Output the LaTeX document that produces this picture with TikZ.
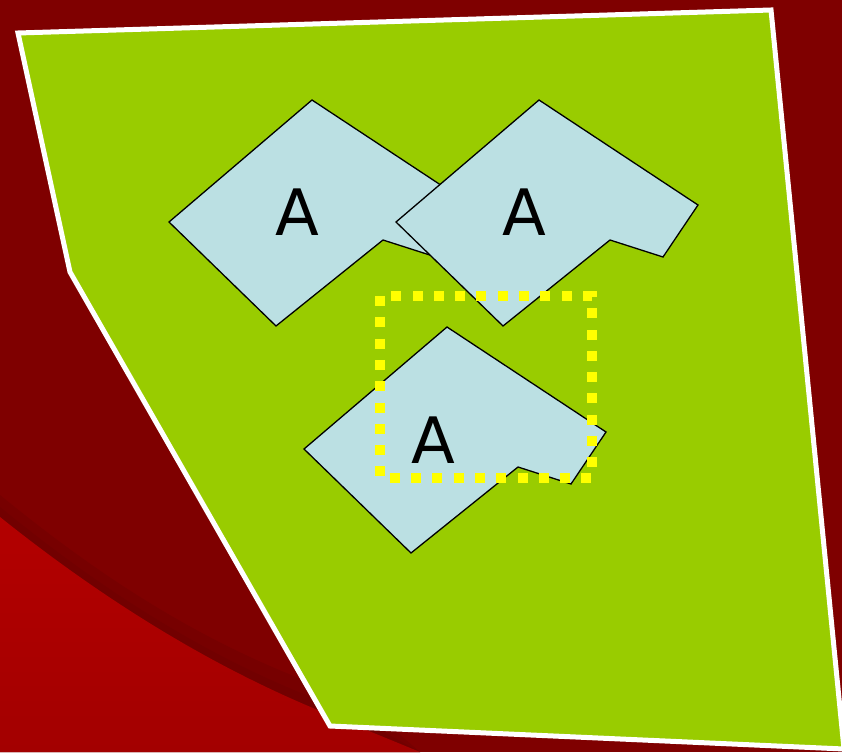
\documentclass[tikz,border=0pt]{standalone}
\usepackage{fontspec}
\setmainfont{DejaVu Sans}
\definecolor{bgred}{HTML}{7F0000}
\definecolor{shadowred}{HTML}{720000}
\definecolor{litred}{HTML}{A30000}
\definecolor{litred2}{HTML}{B30000}
\definecolor{field}{HTML}{99CC00}
\definecolor{piece}{HTML}{BBE0E3}
\definecolor{marq}{HTML}{FFFF00}
\tikzset{
  piecestyle/.style={fill=piece, draw=black, line width=1.3pt, line join=miter},
  fieldstyle/.style={fill=field, draw=white, line width=5pt, line join=miter},
  letter/.style={font=\fontsize{64}{64}\selectfont, text=black, inner sep=0pt},
  marquee/.style={draw=marq, line width=10pt, dash pattern=on 10pt off 11.3pt}
}
\begin{document}
\begin{tikzpicture}[x=1pt,y=-1pt]
\useasboundingbox (0,0) rectangle (842,752);
\fill[bgred] (0,0) rectangle (842,752);
% lighter red area bottom-left
\begin{scope}
\clip (0,0) rectangle (842,752);
\fill[shadowred, opacity=0.6] (0,495) .. controls (110,585) and (220,655) .. (360,700) -- (420,752) -- (0,752) -- cycle;
\fill[shadowred] (0,507) .. controls (110,597) and (220,665) .. (340,708) -- (420,752) -- (0,752) -- cycle;
\shade[top color=litred2, bottom color=litred] (0,517) .. controls (110,605) and (220,671) .. (330,715) -- (420,752) -- (0,752) -- cycle;
\end{scope}
% green field
\path[fieldstyle] (18,33) -- (771,10) -- (844,749) -- (330,726) -- (70,272) -- cycle;
% pieces
\path[piecestyle] (312,100) -- (471,205) -- (436,257) -- (383,240) -- (276,326) -- (169,222) -- cycle;
\path[piecestyle] (539,100) -- (698,205) -- (663,257) -- (610,240) -- (503,326) -- (396,222) -- cycle;
\path[piecestyle] (447,327) -- (606,432) -- (571,484) -- (518,467) -- (411,553) -- (304,449) -- cycle;
\node[letter] (a1) at (297,212) {A};
\node[letter] (a2) at (524,212) {A};
\node[letter] (a3) at (433,440) {A};
% selection marquee
\draw[marquee] (380,296) rectangle (592,478);
\end{tikzpicture}
\end{document}
